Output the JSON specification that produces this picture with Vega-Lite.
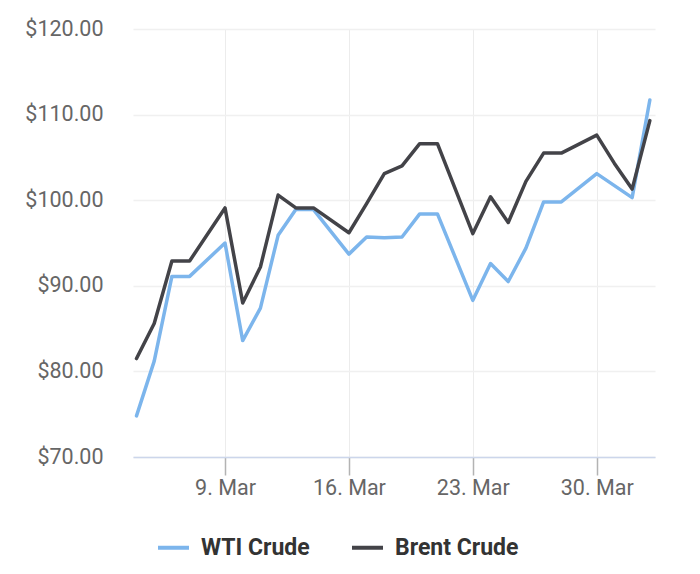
{
  "$schema": "https://vega.github.io/schema/vega-lite/v6.json",
  "description": "WTI and Brent crude oil prices, March to early April.",
  "background": "#ffffff",
  "autosize": {"type": "none"},
  "padding": {"left": 133, "top": 29, "right": 45, "bottom": 117},
  "width": 522,
  "height": 428,
  "data": {
    "values": [
      {"date": "2020-03-04", "series": "WTI Crude", "price": 74.8},
      {"date": "2020-03-05", "series": "WTI Crude", "price": 81.2},
      {"date": "2020-03-06", "series": "WTI Crude", "price": 91.1},
      {"date": "2020-03-07", "series": "WTI Crude", "price": 91.1},
      {"date": "2020-03-09", "series": "WTI Crude", "price": 95.0},
      {"date": "2020-03-10", "series": "WTI Crude", "price": 83.6},
      {"date": "2020-03-11", "series": "WTI Crude", "price": 87.4},
      {"date": "2020-03-12", "series": "WTI Crude", "price": 95.9},
      {"date": "2020-03-13", "series": "WTI Crude", "price": 98.9},
      {"date": "2020-03-14", "series": "WTI Crude", "price": 98.9},
      {"date": "2020-03-16", "series": "WTI Crude", "price": 93.7},
      {"date": "2020-03-17", "series": "WTI Crude", "price": 95.7},
      {"date": "2020-03-18", "series": "WTI Crude", "price": 95.6},
      {"date": "2020-03-19", "series": "WTI Crude", "price": 95.7},
      {"date": "2020-03-20", "series": "WTI Crude", "price": 98.4},
      {"date": "2020-03-21", "series": "WTI Crude", "price": 98.4},
      {"date": "2020-03-23", "series": "WTI Crude", "price": 88.3},
      {"date": "2020-03-24", "series": "WTI Crude", "price": 92.6},
      {"date": "2020-03-25", "series": "WTI Crude", "price": 90.5},
      {"date": "2020-03-26", "series": "WTI Crude", "price": 94.4},
      {"date": "2020-03-27", "series": "WTI Crude", "price": 99.8},
      {"date": "2020-03-28", "series": "WTI Crude", "price": 99.8},
      {"date": "2020-03-30", "series": "WTI Crude", "price": 103.1},
      {"date": "2020-03-31", "series": "WTI Crude", "price": 101.7},
      {"date": "2020-04-01", "series": "WTI Crude", "price": 100.3},
      {"date": "2020-04-02", "series": "WTI Crude", "price": 111.7},
      {"date": "2020-03-04", "series": "Brent Crude", "price": 81.5},
      {"date": "2020-03-05", "series": "Brent Crude", "price": 85.6},
      {"date": "2020-03-06", "series": "Brent Crude", "price": 92.9},
      {"date": "2020-03-07", "series": "Brent Crude", "price": 92.9},
      {"date": "2020-03-09", "series": "Brent Crude", "price": 99.1},
      {"date": "2020-03-10", "series": "Brent Crude", "price": 88.0},
      {"date": "2020-03-11", "series": "Brent Crude", "price": 92.2},
      {"date": "2020-03-12", "series": "Brent Crude", "price": 100.6},
      {"date": "2020-03-13", "series": "Brent Crude", "price": 99.1},
      {"date": "2020-03-14", "series": "Brent Crude", "price": 99.1},
      {"date": "2020-03-16", "series": "Brent Crude", "price": 96.2},
      {"date": "2020-03-17", "series": "Brent Crude", "price": 99.6},
      {"date": "2020-03-18", "series": "Brent Crude", "price": 103.1},
      {"date": "2020-03-19", "series": "Brent Crude", "price": 104.0},
      {"date": "2020-03-20", "series": "Brent Crude", "price": 106.6},
      {"date": "2020-03-21", "series": "Brent Crude", "price": 106.6},
      {"date": "2020-03-23", "series": "Brent Crude", "price": 96.1},
      {"date": "2020-03-24", "series": "Brent Crude", "price": 100.4},
      {"date": "2020-03-25", "series": "Brent Crude", "price": 97.4},
      {"date": "2020-03-26", "series": "Brent Crude", "price": 102.2},
      {"date": "2020-03-27", "series": "Brent Crude", "price": 105.5},
      {"date": "2020-03-28", "series": "Brent Crude", "price": 105.5},
      {"date": "2020-03-30", "series": "Brent Crude", "price": 107.6},
      {"date": "2020-03-31", "series": "Brent Crude", "price": 104.3},
      {"date": "2020-04-01", "series": "Brent Crude", "price": 101.3},
      {"date": "2020-04-02", "series": "Brent Crude", "price": 109.3}
    ]
  },
  "mark": {"type": "line", "strokeWidth": 3.5, "strokeJoin": "round", "strokeCap": "round"},
  "encoding": {
    "x": {
      "field": "date",
      "type": "temporal",
      "scale": {
        "type": "utc",
        "domain": [
          {"year": 2020, "month": 3, "date": 3, "hours": 19, "minutes": 15, "utc": true},
          {"year": 2020, "month": 4, "date": 2, "hours": 7, "minutes": 0, "utc": true}
        ]
      },
      "axis": {
        "title": null,
        "values": [
          {"year": 2020, "month": 3, "date": 9, "utc": true},
          {"year": 2020, "month": 3, "date": 16, "utc": true},
          {"year": 2020, "month": 3, "date": 23, "utc": true},
          {"year": 2020, "month": 3, "date": 30, "utc": true}
        ],
        "labelExpr": "utcFormat(datum.value, '%-d. %b')",
        "domainColor": "#ccd6eb",
        "domainWidth": 1.5,
        "tickColor": "#b3b3b3",
        "tickWidth": 1.5,
        "tickSize": 18,
        "labelPadding": 2,
        "labelFont": "Roboto",
        "labelFontSize": 21.5,
        "labelColor": "#666666",
        "gridColor": "#ececec",
        "gridWidth": 1
      }
    },
    "y": {
      "field": "price",
      "type": "quantitative",
      "scale": {"domain": [70, 120], "zero": false, "nice": false},
      "axis": {
        "title": null,
        "values": [70, 80, 90, 100, 110, 120],
        "format": "$.2f",
        "domain": false,
        "ticks": false,
        "labelPadding": 30,
        "labelFont": "Roboto",
        "labelFontSize": 21.5,
        "labelColor": "#666666",
        "gridColor": "#f0f0f0",
        "gridWidth": 1.5
      }
    },
    "color": {
      "field": "series",
      "type": "nominal",
      "scale": {"domain": ["WTI Crude", "Brent Crude"], "range": ["#7cb5ec", "#434348"]},
      "legend": {
        "title": null,
        "orient": "none",
        "direction": "horizontal",
        "legendX": 23,
        "legendY": 501,
        "padding": 0,
        "symbolType": "stroke",
        "symbolSize": 961,
        "symbolStrokeWidth": 4,
        "labelOffset": 10,
        "columnPadding": 34,
        "labelFont": "Roboto",
        "labelFontWeight": "bold",
        "labelFontSize": 23,
        "labelColor": "#333333"
      }
    }
  },
  "config": {
    "view": {"stroke": null}
  }
}
